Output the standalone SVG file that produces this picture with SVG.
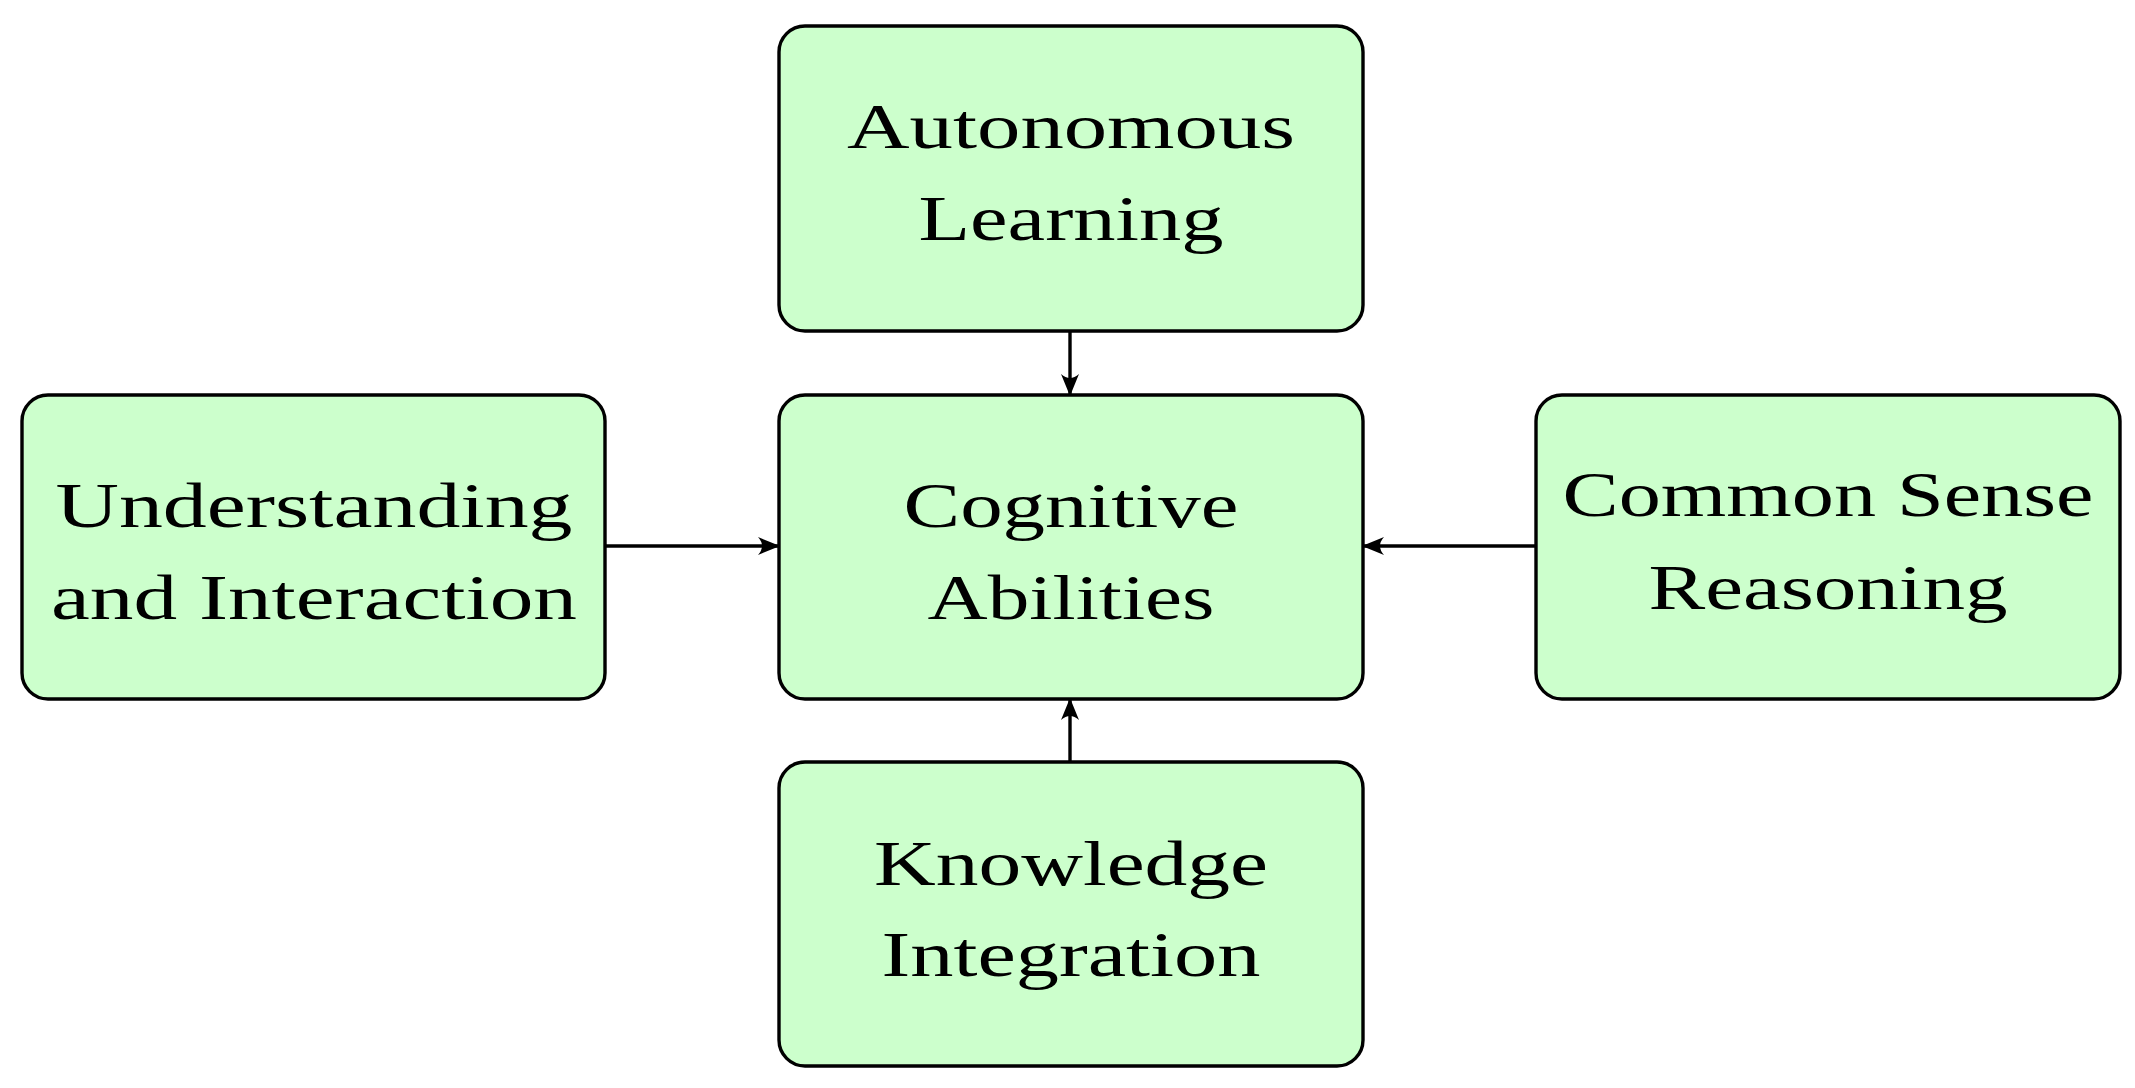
<svg xmlns="http://www.w3.org/2000/svg" width="2135" height="1088" viewBox="0 0 2135 1088">
<style>
.b{fill:#ccffcc;stroke:#000;stroke-width:3.4}
.t{font-family:"Liberation Serif",serif;font-size:64px;text-anchor:middle;fill:#000}
.c{stroke:#000;stroke-width:3.4;fill:none;marker-end:url(#a)}
</style>
<defs><marker id="a" markerWidth="22" markerHeight="18" refX="21" refY="9" orient="auto" markerUnits="userSpaceOnUse"><path d="M0,0 Q8,9 0,18 L22,9 Z" fill="#000"/></marker></defs>
<rect width="2135" height="1088" fill="#fff"/>
<g id="connectors">
<line class="c" x1="1070" y1="331" x2="1070" y2="395"/>
<line class="c" x1="605" y1="546" x2="779" y2="546"/>
<line class="c" x1="1536" y1="546" x2="1363" y2="546"/>
<line class="c" x1="1070" y1="762" x2="1070" y2="699"/>
</g>
<g id="autonomous"><rect class="b" x="779" y="26" width="584" height="305" rx="26"/>
<text class="t" x="1071" y="148" textLength="448" lengthAdjust="spacingAndGlyphs">Autonomous</text>
<text class="t" x="1071" y="240" textLength="305" lengthAdjust="spacingAndGlyphs">Learning</text></g>
<g id="cognitive"><rect class="b" x="779" y="395" width="584" height="304" rx="26"/>
<text class="t" x="1071" y="527" textLength="335" lengthAdjust="spacingAndGlyphs">Cognitive</text>
<text class="t" x="1071" y="619" textLength="287" lengthAdjust="spacingAndGlyphs">Abilities</text></g>
<g id="understanding"><rect class="b" x="22" y="395" width="583" height="304" rx="26"/>
<text class="t" x="314" y="527" textLength="517" lengthAdjust="spacingAndGlyphs">Understanding</text>
<text class="t" x="314" y="619" textLength="526" lengthAdjust="spacingAndGlyphs">and Interaction</text></g>
<g id="commonsense"><rect class="b" x="1536" y="395" width="584" height="304" rx="26"/>
<text class="t" x="1828" y="516" textLength="531" lengthAdjust="spacingAndGlyphs">Common Sense</text>
<text class="t" x="1828" y="609" textLength="359" lengthAdjust="spacingAndGlyphs">Reasoning</text></g>
<g id="knowledge"><rect class="b" x="779" y="762" width="584" height="304" rx="26"/>
<text class="t" x="1071" y="885" textLength="394" lengthAdjust="spacingAndGlyphs">Knowledge</text>
<text class="t" x="1071" y="976" textLength="379" lengthAdjust="spacingAndGlyphs">Integration</text></g>
</svg>
